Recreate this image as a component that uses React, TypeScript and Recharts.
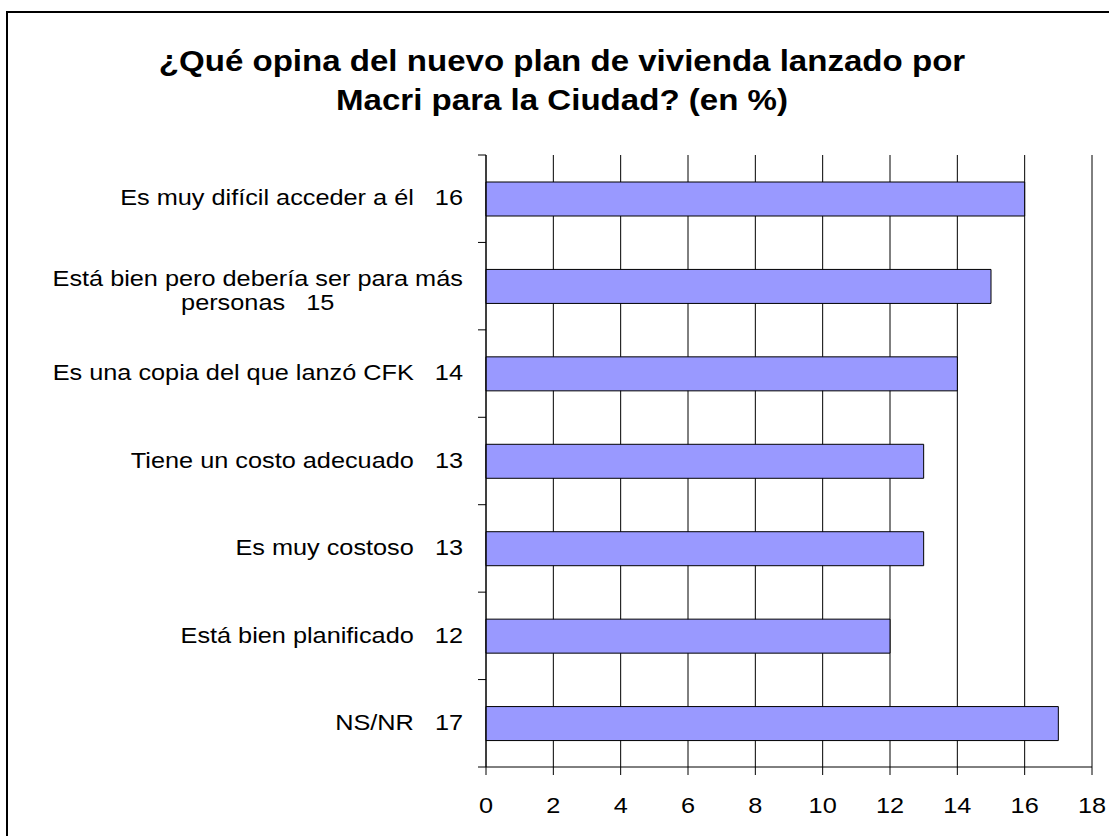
import { BarChart, Bar, XAxis, YAxis, CartesianGrid } from 'recharts'

const categories = [
  'Es muy difícil acceder a él',
  'Está bien pero debería ser para más personas',
  'Es una copia del que lanzó CFK',
  'Tiene un costo adecuado',
  'Es muy costoso',
  'Está bien planificado',
  'NS/NR',
]
const values = [16, 15, 14, 13, 13, 12, 17]
const xTicks = [0, 2, 4, 6, 8, 10, 12, 14, 16, 18]
const titleLines = ['¿Qué opina del nuevo plan de vivienda lanzado por', 'Macri para la Ciudad? (en %)']

const data = categories.map((c, i) => ({ name: `${c}   ${values[i]}`, value: values[i] }))

const W = 1109
const H = 836
const PLOT_TOP = 155
const PLOT_BOTTOM = 767
const PLOT_LEFT = 486
const PLOT_RIGHT = 1092
const X_AXIS_H = 60
const LABEL_FS = 22
const STRETCH = 1.15 // the source text is a bit wider than plain Arial
const FONT = '"Liberation Sans", Arial, sans-serif'
const BAND = (PLOT_BOTTOM - PLOT_TOP) / categories.length

// greedy word wrap, like excel does on long category names
function wrap(text: string, maxChars = 35) {
  const words = text.split(' ')
  const lines: string[] = []
  let cur = ''
  for (const w of words) {
    const next = cur === '' ? w : cur + ' ' + w
    if (next.length > maxChars && cur !== '') {
      lines.push(cur)
      cur = w
    } else {
      cur = next
    }
  }
  lines.push(cur)
  return lines.map(l => l.replace(/ (\d+)$/, '   $1'))
}

let ctx: CanvasRenderingContext2D | null = null
function measure(s: string) {
  if (!ctx) {
    ctx = document.createElement('canvas').getContext('2d')
    if (ctx) ctx.font = `${LABEL_FS}px ${FONT}`
  }
  return (ctx ? ctx.measureText(s).width : s.length * 11) * STRETCH
}

function WideText({ x, y, anchor, children }: { x: number; y: number; anchor: 'start' | 'middle' | 'end'; children: string }) {
  return (
    <text
      transform={`translate(${x},${y}) scale(${STRETCH},1)`}
      dy="0.35em"
      textAnchor={anchor}
      fontSize={LABEL_FS}
      fontFamily={FONT}
      fill="#000"
      style={{ whiteSpace: 'pre' }}
    >
      {children}
    </text>
  )
}

function CategoryTick(props: any) {
  const { y, payload, index } = props
  const lines = wrap(String(payload.value).replace(/\s+/g, ' '))
  const right = PLOT_LEFT - 23
  const widest = Math.max(...lines.map(measure))
  const cx = right - widest / 2
  const lh = 24
  const shift = lines.length > 1 ? 4 : -1
  return (
    <g>
      <line x1={PLOT_LEFT - 8} x2={PLOT_LEFT} y1={y - BAND / 2} y2={y - BAND / 2} stroke="#000" />
      {index === categories.length - 1 && (
        <line x1={PLOT_LEFT - 8} x2={PLOT_LEFT} y1={y + BAND / 2} y2={y + BAND / 2} stroke="#000" />
      )}
      {lines.map((l, i) => (
        <WideText
          key={i}
          x={lines.length > 1 ? cx : right}
          y={y + (i - (lines.length - 1) / 2) * lh + shift}
          anchor={lines.length > 1 ? 'middle' : 'end'}
        >
          {l}
        </WideText>
      ))}
    </g>
  )
}

function ValueTick(props: any) {
  const { x, y, payload } = props
  return (
    <WideText x={x} y={y + 14} anchor="middle">
      {String(payload.value)}
    </WideText>
  )
}

export default function App() {
  return (
    <div style={{ position: 'absolute', left: 0, top: 0, width: W, height: H, overflow: 'hidden', background: '#fff', fontFamily: FONT }}>
      {/* outer frame, runs off the right and bottom of the shot */}
      <div style={{ position: 'absolute', left: 6, top: 11, width: 1120, height: 850, border: '2px solid #000', boxSizing: 'border-box' }} />
      <div style={{ position: 'absolute', left: 12, top: 42, width: 1100, textAlign: 'center', fontSize: 29, fontWeight: 'bold', lineHeight: '39px', color: '#000' }}>
        {titleLines.map(t => (
          <div key={t} style={{ transform: 'scaleX(1.14)', transformOrigin: '550px 0' }}>{t}</div>
        ))}
      </div>
      <div style={{ position: 'absolute', left: 0, top: 0 }}>
        <BarChart
          width={W}
          height={H}
          data={data}
          layout="vertical"
          margin={{ top: PLOT_TOP, right: W - PLOT_RIGHT, bottom: H - PLOT_BOTTOM - X_AXIS_H, left: 0 }}
          barCategoryGap={0}
        >
          <CartesianGrid horizontal={false} stroke="#000" xAxisId="bottom" yAxisId="left" />
          <XAxis
            xAxisId="bottom"
            type="number"
            domain={[0, 18]}
            ticks={xTicks}
            height={X_AXIS_H}
            tickSize={8}
            tickMargin={16}
            axisLine={{ stroke: '#000' }}
            tickLine={{ stroke: '#000' }}
            tick={<ValueTick />}
            interval={0}
          />
          <XAxis xAxisId="top" orientation="top" type="number" domain={[0, 18]} height={0} tick={false} tickLine={false} axisLine={{ stroke: '#808080' }} />
          <YAxis
            yAxisId="left"
            type="category"
            dataKey="name"
            width={PLOT_LEFT}
            tickLine={false}
            axisLine={{ stroke: '#000' }}
            tick={<CategoryTick />}
            interval={0}
          />
          <YAxis yAxisId="right" orientation="right" type="category" dataKey="name" width={0} tick={false} tickLine={false} axisLine={{ stroke: '#808080' }} />
          <Bar
            xAxisId="bottom"
            yAxisId="left"
            dataKey="value"
            fill="#9999FF"
            stroke="#000"
            strokeWidth={1}
            barSize={34}
            isAnimationActive={false}
          />
        </BarChart>
      </div>
    </div>
  )
}
